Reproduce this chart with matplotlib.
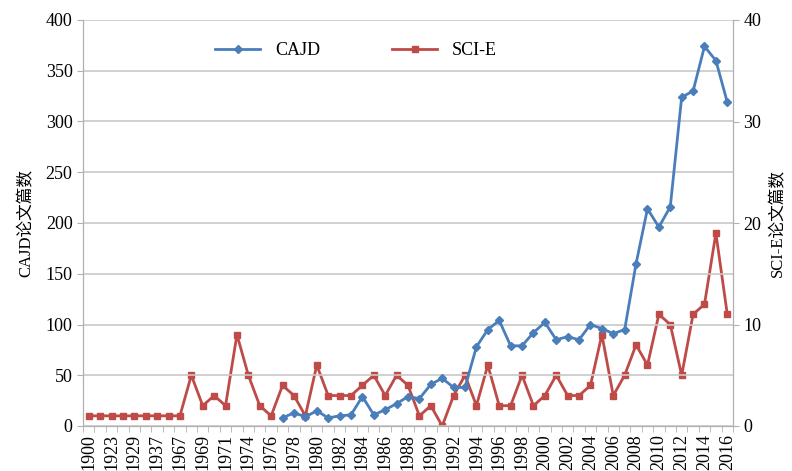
import matplotlib.pyplot as plt
import numpy as np

# categories (years) on the x axis
years = ['1900', '1911', '1923', '1926', '1929', '1933', '1937', '1950',
         '1967', '1968', '1969', '1970', '1971', '1972', '1974', '1975'] + \
        [str(y) for y in range(1976, 2017)]

# CAJD papers (left axis), starts in 1977
cajd_years = [str(y) for y in range(1977, 2017)]
cajd = [8, 13, 9, 15, 8, 10, 11, 29, 11, 16, 22, 29, 27, 41, 47, 38, 38, 78,
        95, 104, 79, 79, 92, 102, 85, 88, 85, 100, 96, 91, 95, 160, 214, 196,
        216, 324, 330, 374, 360, 319]

# SCI-E papers (right axis)
scie = [1, 1, 1, 1, 1, 1, 1, 1, 1, 5, 2, 3, 2, 9, 5, 2, 1, 4, 3, 1, 6, 3, 3,
        3, 4, 5, 3, 5, 4, 1, 2, 0, 3, 5, 2, 6, 2, 2, 5, 2, 3, 5, 3, 3, 4, 9,
        3, 5, 8, 6, 11, 10, 5, 11, 12, 19, 11]

blue = '#4a7ebb'
red = '#be4b48'
serif = ['Liberation Serif', 'Noto Sans CJK SC']

fig = plt.figure(figsize=(7.92, 4.71), dpi=100)
ax = fig.add_axes([83 / 792, 45 / 471, 650 / 792, 406 / 471])
ax2 = ax.twinx()

x = np.arange(len(years))
cx = [years.index(y) for y in cajd_years]

l1, = ax.plot(cx, cajd, color=blue, marker='D', markersize=4.5, linewidth=2, label='CAJD')
l2, = ax2.plot(x, scie, color=red, marker='s', markersize=4.5, linewidth=2, label='SCI-E')
ax.set_zorder(ax2.get_zorder() + 1)
ax.patch.set_visible(False)

ax.set_xlim(-0.5, len(years) - 0.5)
ax.set_ylim(0, 400)
ax2.set_ylim(0, 40)
ax.set_yticks(range(0, 401, 50))
ax2.set_yticks(range(0, 41, 10))
ax.yaxis.grid(True, color='#c8c8c8', linewidth=1.2)
ax.set_axisbelow(True)

ax.set_xticks(x[::2])
ax.set_xticklabels(years[::2], rotation=90, fontsize=13, family=serif)
ax.set_xticks(np.arange(-0.5, len(years), 1), minor=True)
ax.tick_params(axis='x', which='major', length=0, pad=6)
ax.tick_params(axis='x', which='minor', length=4, color='#b0b0b0')
ax.tick_params(axis='y', length=4, color='#b0b0b0', labelsize=13)
ax2.tick_params(axis='y', length=4, color='#b0b0b0', labelsize=13)
for lab in ax.get_yticklabels() + ax2.get_yticklabels():
    lab.set_family(serif)

for a in (ax, ax2):
    for s in a.spines.values():
        s.set_visible(False)
    for side in ('left', 'right', 'bottom'):
        a.spines[side].set_visible(True)
        a.spines[side].set_color('#b0b0b0')

ax.set_ylabel('CAJD论文篇数', fontsize=12, family=serif, labelpad=8)
ax2.set_ylabel('SCI-E论文篇数', fontsize=12, family=serif, labelpad=6)

ax.legend(handles=[l1, l2], loc='upper center', bbox_to_anchor=(0.42, 0.985), ncol=2,
          frameon=False, prop={'family': serif, 'size': 13}, columnspacing=4,
          handlelength=2.5)

fig.savefig('out.png', dpi=100)
